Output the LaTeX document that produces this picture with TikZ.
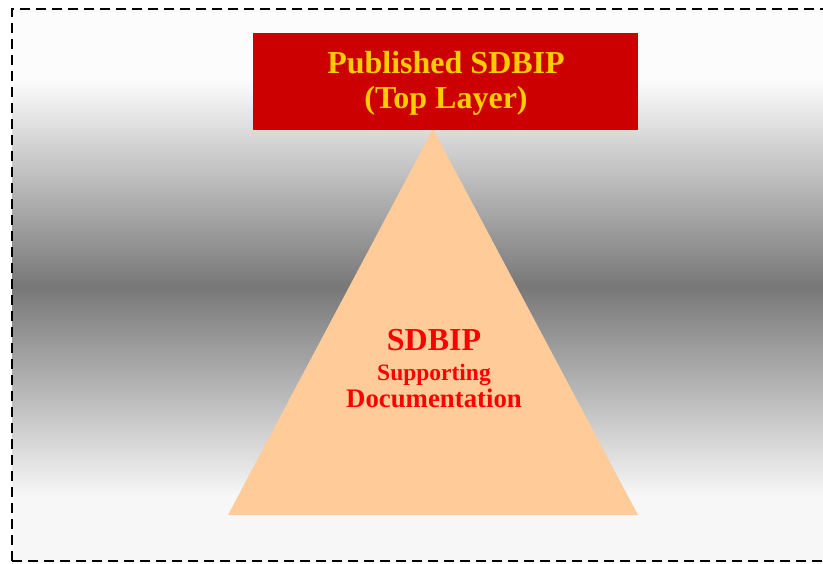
\documentclass[tikz,border=0pt]{standalone}
\usepackage{fontspec}
\setmainfont{Liberation Serif}
\definecolor{boxred}{HTML}{CC0000}
\definecolor{gold}{HTML}{FFCC00}
\definecolor{peach}{HTML}{FFCC99}
\definecolor{labelred}{HTML}{FF0000}
\definecolor{midgray}{HTML}{777777}
\definecolor{paleA}{HTML}{FCFCFC}
\definecolor{paleB}{HTML}{F7F7F7}
\tikzset{
  frame/.style={draw=black, line width=1.9pt, dash pattern=on 10pt off 6pt},
  layerbox/.style={fill=boxred, draw=none, inner sep=0pt, minimum width=385pt, minimum height=97pt},
  goldtext/.style={text=gold, font=\bfseries\fontsize{32}{36}\selectfont, anchor=base, inner sep=0pt},
  redtext/.style={text=labelred, anchor=base, inner sep=0pt},
}
\begin{document}
\begin{tikzpicture}[x=1pt,y=-1pt]
\useasboundingbox (0,0) rectangle (823,563);
\clip (0,0) rectangle (823,563);
% background band: pale at top and bottom, gray in the middle
\fill[paleA] (12,9) rectangle (823,81);
\shade[top color=paleA, bottom color=midgray] (12,80) rectangle (823,287);
\shade[top color=midgray, bottom color=paleB] (12,286) rectangle (823,496);
\fill[paleB] (12,495) rectangle (823,561);
% dashed outline, running past the right edge
\draw[frame] (12,561) -- (12,9) -- (840,9);
\draw[frame] (12,561) -- (840,561);
% supporting layer
\coordinate (apex) at (433,129);
\coordinate (baseL) at (228,515);
\coordinate (baseR) at (638,515);
\fill[peach] (apex) -- (baseR) -- (baseL) -- cycle;
% top layer
\node[layerbox] (top) at (445.5,81.5) {};
\node[goldtext] (t1) at (446,73) {Published SDBIP};
\node[goldtext] (t2) at (446,108) {(Top Layer)};
% labels of the supporting layer
\node[redtext, font=\bfseries\fontsize{32}{36}\selectfont] (s1) at (434,350) {SDBIP};
\node[redtext, font=\bfseries\fontsize{23.5}{27}\selectfont] (s2) at (434,380) {Supporting};
\node[redtext, font=\bfseries\fontsize{26.8}{30}\selectfont] (s3) at (434,407) {Documentation};
\end{tikzpicture}
\end{document}
